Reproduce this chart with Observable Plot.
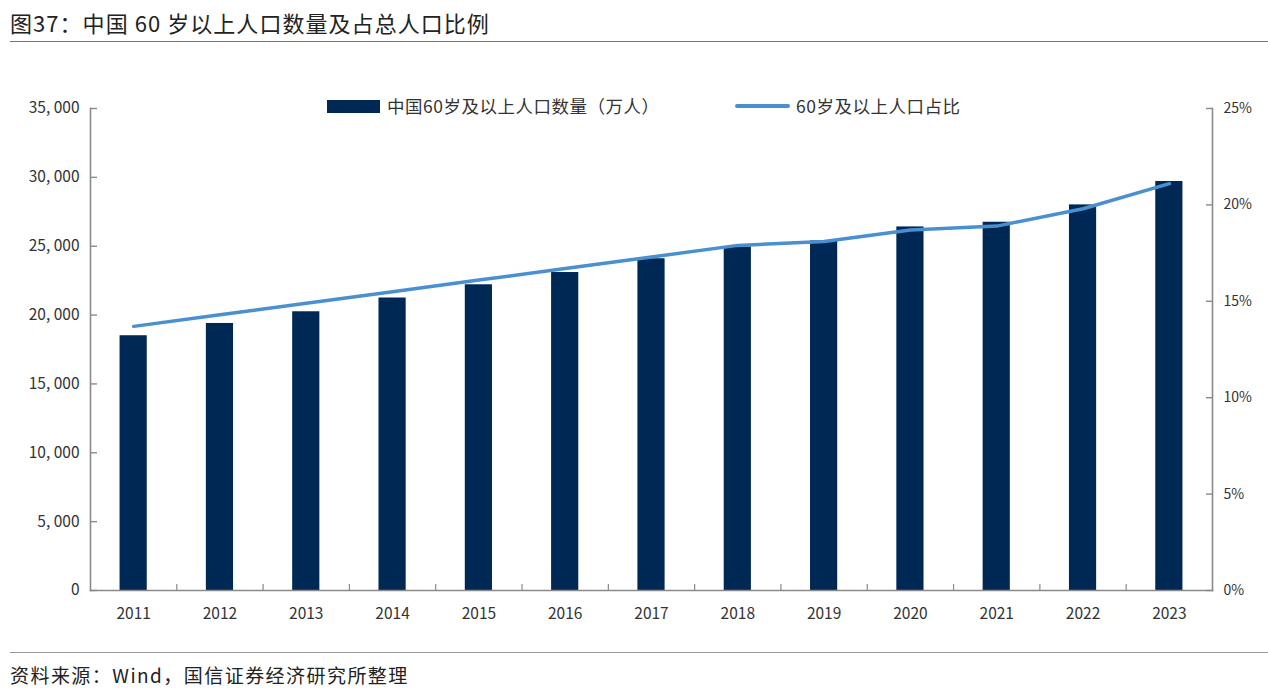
<!DOCTYPE html>
<html lang="zh">
<head>
<meta charset="utf-8">
<script src="https://cdn.jsdelivr.net/npm/d3@7"></script>
<script src="https://cdn.jsdelivr.net/npm/@observablehq/plot@0.6"></script>
<style>
html,body{margin:0;padding:0;background:#fff;width:1268px;height:697px;overflow:hidden;position:relative;font-family:"Noto Sans CJK SC",sans-serif;color:#222}
#title{height:41px;margin-left:10px;border-bottom:1px solid #777;font-size:22px;line-height:45px;letter-spacing:1.05px;white-space:nowrap}
#chart{height:610px}
#chart svg{display:block}
#caption{margin-left:10px;border-top:1px solid #999;font-size:19px;line-height:43px;letter-spacing:1.45px;white-space:nowrap}
.lg{position:absolute;top:95px;font-size:17.5px;line-height:22px;color:#333;white-space:nowrap;letter-spacing:.5px}
.key{position:absolute}
</style>
</head>
<body>
<div id="title">图37：中国 60 岁以上人口数量及占总人口比例</div>
<div id="chart"></div>
<div id="caption">资料来源：Wind，国信证券经济研究所整理</div>
<div class="key" style="left:327px;top:100px;width:53px;height:13px;background:#002855"></div>
<div class="lg" style="left:387px">中国60岁及以上人口数量（万人）</div>
<div class="key" style="left:735px;top:104px;width:55px;height:4px;border-radius:2px;background:#4a90d0"></div>
<div class="lg" style="left:796px">60岁及以上人口占比</div>
<script>
const years = ["2011","2012","2013","2014","2015","2016","2017","2018","2019","2020","2021","2022","2023"];
const population = [18500,19390,20240,21240,22200,23090,24090,24950,25390,26400,26740,28000,29700];
const share = [13.7,14.3,14.9,15.5,16.1,16.7,17.3,17.9,18.1,18.7,18.9,19.8,21.1];
const leftTicks = [0,5000,10000,15000,20000,25000,30000,35000];
const rightTicks = [0,5,10,15,20,25];
const leftMax = 35000, rightMax = 25;
const toLeft = v => v * leftMax / rightMax;
const table = years.map((year,i) => ({year, population: population[i], share: share[i]}));
const axisColor = "#8a8a8a", textColor = "#333";

const plot = Plot.plot({
  width: 1268, height: 610,
  marginTop: 66, marginBottom: 62, marginLeft: 90, marginRight: 56,
  style: {fontFamily: '"Noto Sans CJK SC",sans-serif', fontSize: "15.5px", background: "#fff", color: textColor},
  x: {domain: years, paddingInner: 0.685, paddingOuter: 0.3425, align: 0.5, round: false, label: null},
  y: {domain: [0, leftMax], label: null},
  marks: [
    Plot.barY(table, {x: "year", y: "population", fill: "#002855"}),
    Plot.line(table, {x: "year", y: d => toLeft(d.share), stroke: "#4a90d0", strokeWidth: 3.5, curve: "linear"}),
    Plot.axisY({anchor: "left", ticks: leftTicks, tickSize: -7, tickPadding: 18, stroke: axisColor, strokeWidth: 1.4,
      tickFormat: d => d3.format(",")(d).replace(",", ", "), fill: textColor, label: null}),
    Plot.axisY({anchor: "right", ticks: rightTicks.map(toLeft), tickSize: -7, tickPadding: 18, stroke: axisColor, strokeWidth: 1.4,
      tickFormat: d => d * rightMax / leftMax + "%", fill: textColor, fontSize: 14, label: null}),
    Plot.axisX({anchor: "bottom", tickSize: 0, tickPadding: 17, fill: textColor, label: null}),
    Plot.axisX({anchor: "bottom", ticks: years.slice(0, -1), tickSize: -6, text: null, dx: 43.15, stroke: axisColor, strokeWidth: 1.2, label: null}),
    Plot.frame({anchor: "left", stroke: axisColor, strokeWidth: 1.6}),
    Plot.frame({anchor: "right", stroke: axisColor, strokeWidth: 1.6}),
    Plot.frame({anchor: "bottom", stroke: axisColor, strokeWidth: 1.6})
  ]
});
document.getElementById("chart").append(plot);
</script>
</body>
</html>
